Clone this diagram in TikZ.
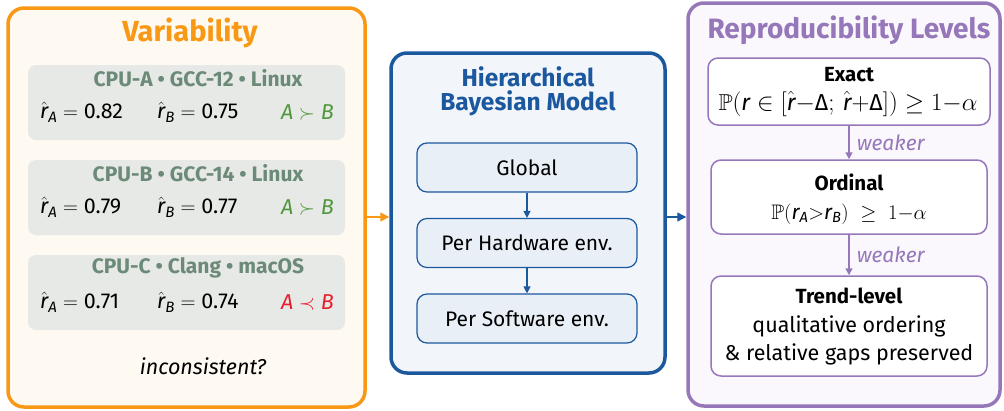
\documentclass[tikz,border=0pt]{standalone}
\usepackage{amsmath,amssymb}
\usepackage{fontspec}
\setmainfont{Fira Sans}
\usetikzlibrary{arrows.meta,calc}
\definecolor{orng}{RGB}{248,152,20}
\definecolor{cream}{RGB}{254,249,241}
\definecolor{grayfill}{RGB}{231,233,231}
\definecolor{hdr}{RGB}{108,138,120}
\definecolor{grn}{RGB}{80,150,60}
\definecolor{rd}{RGB}{232,30,45}
\definecolor{blu}{RGB}{28,88,158}
\definecolor{bluefill}{RGB}{242,246,251}
\definecolor{blueinner}{RGB}{232,239,247}
\definecolor{purp}{RGB}{150,120,186}
\definecolor{purpfill}{RGB}{250,248,252}
\newcommand{\rh}[1]{\hat{\mathit{r}}_{\mathit{#1}}}
\newcommand{\nm}[1]{\text{#1}}
\begin{document}
\begin{tikzpicture}[x=1pt,y=-1pt,
  panel/.style={rounded corners=16pt,line width=3.5pt,inner sep=0pt},
  envbox/.style={fill=grayfill,rounded corners=8pt,minimum width=317pt,minimum height=75pt,inner sep=0pt},
  hdrtxt/.style={text=hdr,font=\fontsize{21}{24}\selectfont\bfseries,inner sep=0pt},
  valtxt/.style={font=\fontsize{21.5}{24}\selectfont,inner sep=0pt},
  levbox/.style={draw=blu,fill=blueinner,line width=1.2pt,rounded corners=10pt,minimum width=220pt,minimum height=49pt,inner sep=0pt,font=\fontsize{21}{24}\selectfont},
  repbox/.style={draw=purp,fill=white,line width=1.5pt,rounded corners=10pt,inner sep=0pt},
  reptitle/.style={font=\fontsize{20.5}{23}\selectfont\bfseries,inner sep=0pt},
  repfml/.style={font=\fontsize{21}{24}\selectfont,inner sep=0pt},
  blarrow/.style={draw=blu,line width=1.3pt,-{Triangle[length=7pt,width=7pt]}},
  prarrow/.style={draw=purp,line width=1.5pt,-{Triangle[length=7pt,width=7pt]}},
  weak/.style={text=purp,font=\fontsize{21}{24}\selectfont\itshape,inner sep=0pt,anchor=west}
]
\useasboundingbox (0,0) rectangle (1004,410);
% panels
\node[panel,draw=orng,fill=cream,minimum width=357pt,minimum height=399pt] (left) at (186.5,207.5) {};
\node[panel,draw=blu,fill=bluefill,minimum width=274pt,minimum height=320pt] (mid) at (528,213) {};
\node[panel,draw=purp,fill=purpfill,minimum width=312pt,minimum height=403pt] (right) at (844,204.5) {};
% titles
\node[text=orng,font=\fontsize{29}{32}\selectfont\bfseries,inner sep=0pt] (ltitle) at (190,33) {Variability};
\node[text=blu,font=\fontsize{24.5}{25}\selectfont\bfseries,inner sep=0pt,align=center] (mtitle) at (528,91) {Hierarchical\\[-1pt]Bayesian Model};
\node[text=purp,font=\fontsize{28}{30}\selectfont\bfseries,inner sep=0pt] (rtitle) at (849,30) {Reproducibility Levels};
% environment boxes
\node[envbox] (g1) at (186.5,102.5) {};
\node[envbox] (g2) at (186.5,197.5) {};
\node[envbox] (g3) at (186.5,292.5) {};
\node[hdrtxt] (h1) at ($(g1.north)+(11.5,13)$) {CPU-A • GCC-12 • Linux};
\node[hdrtxt] (h2) at ($(g2.north)+(11.5,13)$) {CPU-B • GCC-14 • Linux};
\node[hdrtxt] (h3) at ($(g3.north)+(11.5,13)$) {CPU-C • Clang • macOS};
\node[valtxt,anchor=west] (a1) at (40,112) {$\rh{A} = \nm{0.82}$};
\node[valtxt,anchor=west] (b1) at (157,112) {$\rh{B} = \nm{0.75}$};
\node[valtxt,anchor=east,text=grn] (c1) at (334,112) {$\mathit{A} \succ \mathit{B}$};
\node[valtxt,anchor=west] (a2) at (40,207) {$\rh{A} = \nm{0.79}$};
\node[valtxt,anchor=west] (b2) at (157,207) {$\rh{B} = \nm{0.77}$};
\node[valtxt,anchor=east,text=grn] (c2) at (334,207) {$\mathit{A} \succ \mathit{B}$};
\node[valtxt,anchor=west] (a3) at (40,302) {$\rh{A} = \nm{0.71}$};
\node[valtxt,anchor=west] (b3) at (157,302) {$\rh{B} = \nm{0.74}$};
\node[valtxt,anchor=east,text=rd] (c3) at (334,302) {$\mathit{A} \prec \mathit{B}$};
\node[font=\fontsize{21.5}{24}\selectfont\itshape,inner sep=0pt] (inc) at (203,366) {inconsistent?};
% middle hierarchy
\node[levbox] (glob) at (527,167.5) {Global};
\node[levbox] (hw) at (527,243) {Per Hardware env.};
\node[levbox] (sw) at (527,318.5) {Per Software env.};
\draw[blarrow] (glob) -- (hw);
\draw[blarrow] (hw) -- (sw);
% connectors between panels
\coordinate (ay) at (0,217);
\draw[draw=orng,line width=1.5pt,-{Triangle[length=9pt,width=9pt]}] (left.east |- ay) -- (mid.west |- ay);
\draw[blarrow,-{Triangle[length=9pt,width=9pt]}] (mid.east |- ay) -- (right.west |- ay);
% reproducibility levels
\node[repbox,minimum width=282pt,minimum height=67pt] (exact) at (849,91.5) {};
\node[reptitle] (exactt) at (849,75) {Exact};
\node[repfml,font=\fontsize{23}{26}\selectfont] (exactf) at (848,104) {$\mathbb{P}(\mathit{r} \in [\hat{\mathit{r}}{-}\nm{Δ};\, \hat{\mathit{r}}{+}\nm{Δ}]) \geq 1{-}\alpha$};
\node[repbox,minimum width=276pt,minimum height=74pt] (ord) at (849,197) {};
\node[reptitle] (ordt) at (849,182) {Ordinal};
\node[repfml] (ordf) at (849,214) {$\mathbb{P}(\mathit{r}_{\mathit{A}}{>}\mathit{r}_{\mathit{B}})\;\geq\;1{-}\alpha$};
\node[repbox,minimum width=276pt,minimum height=100pt] (trend) at (849,326) {};
\node[reptitle] (trendt) at (849,296) {Trend-level};
\node[font=\fontsize{21.5}{24}\selectfont,inner sep=0pt,align=center] (trendd) at (849,340) {qualitative ordering\\[4pt]\& relative gaps preserved};
\draw[prarrow] (exact) -- (ord) node[weak,midway,xshift=7pt] {weaker};
\draw[prarrow] (ord) -- (trend) node[weak,midway,xshift=7pt] {weaker};
\end{tikzpicture}
\end{document}
